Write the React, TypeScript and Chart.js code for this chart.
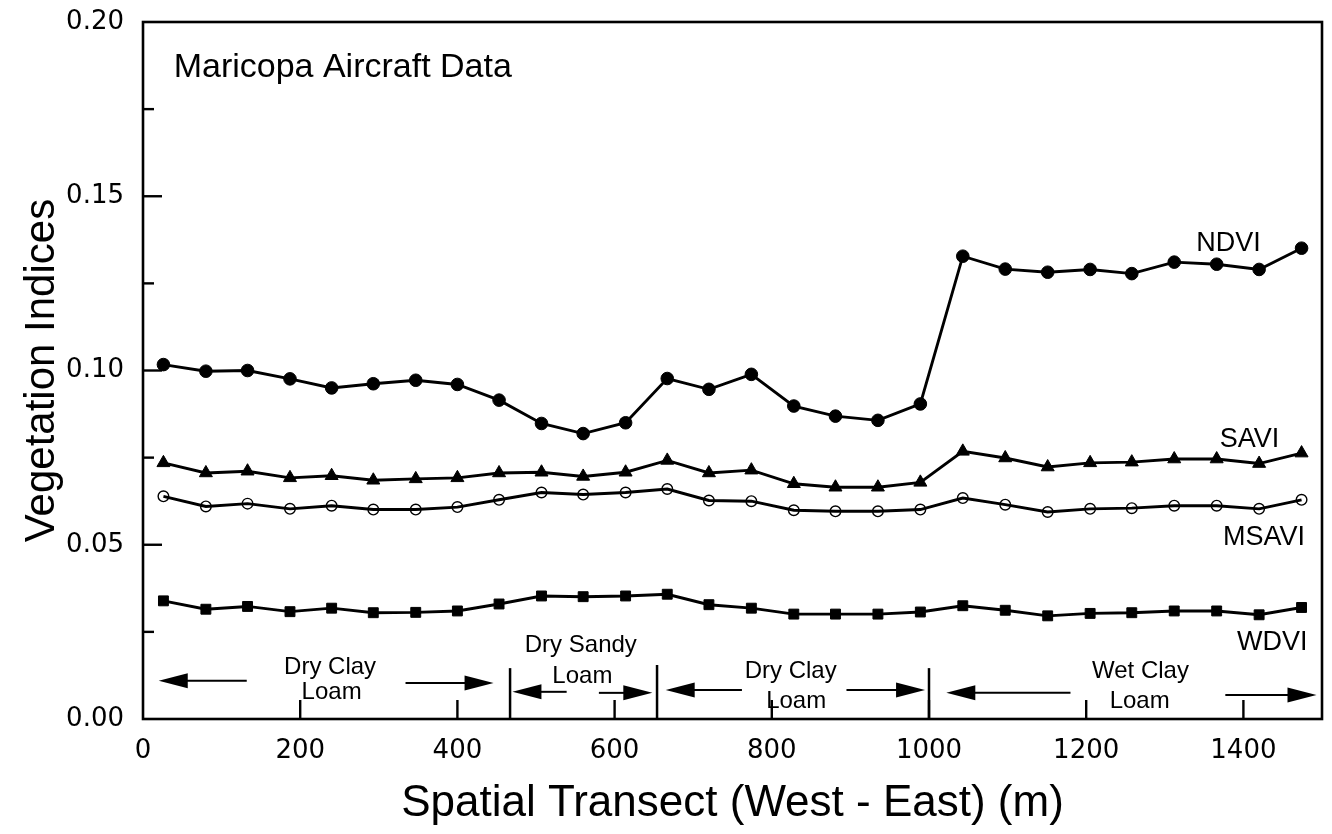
import React, { useEffect, useRef } from 'react';
import { Chart, registerables } from 'chart.js';

Chart.register(...registerables);

// ---- data ----
const positions = [26, 80, 133, 187, 240, 293, 347, 400, 453, 507, 560, 614, 667, 720, 774, 828, 881, 935, 989, 1043, 1097, 1151, 1205, 1258, 1312, 1366, 1420, 1474];

const ndvi = [0.1017, 0.0998, 0.1000, 0.0976, 0.0950, 0.0962, 0.0972, 0.0960, 0.0915, 0.0848, 0.0819, 0.0850, 0.0977, 0.0946, 0.0989, 0.0898, 0.0869, 0.0857, 0.0904, 0.1328, 0.1291, 0.1282, 0.1290, 0.1278, 0.1311, 0.1305, 0.1290, 0.1351];
const savi = [0.0735, 0.0706, 0.0711, 0.0692, 0.0698, 0.0685, 0.0689, 0.0692, 0.0706, 0.0708, 0.0696, 0.0708, 0.0742, 0.0706, 0.0714, 0.0675, 0.0665, 0.0665, 0.0679, 0.0768, 0.0749, 0.0723, 0.0735, 0.0737, 0.0746, 0.0746, 0.0733, 0.0763];
const msavi = [0.0639, 0.0610, 0.0618, 0.0603, 0.0612, 0.0601, 0.0601, 0.0608, 0.0629, 0.0650, 0.0644, 0.0650, 0.0660, 0.0627, 0.0625, 0.0599, 0.0596, 0.0596, 0.0601, 0.0634, 0.0615, 0.0594, 0.0603, 0.0605, 0.0612, 0.0612, 0.0603, 0.0629];
const wdvi = [0.0339, 0.0315, 0.0323, 0.0308, 0.0318, 0.0305, 0.0306, 0.0310, 0.0330, 0.0353, 0.0351, 0.0353, 0.0358, 0.0328, 0.0318, 0.0301, 0.0301, 0.0301, 0.0307, 0.0325, 0.0312, 0.0296, 0.0303, 0.0305, 0.0310, 0.0310, 0.0299, 0.0320];

const seriesNames = ['NDVI', 'SAVI', 'MSAVI', 'WDVI'];

const xAxisTitle = 'Spatial Transect (West - East) (m)';
const yAxisTitle = 'Vegetation Indices';
const panelTitle = 'Maricopa Aircraft Data';

// soil zone boundaries (m)
const zoneBoundaries = [467, 654, 1000];

// soil zone labels: [text, x (m), y (index units)]
const zoneTexts: [string, number, number][] = [
  ['Dry Clay', 238, 0.0129],
  ['Loam', 240, 0.0057],
  ['Dry Sandy', 557, 0.0193],
  ['Loam', 559, 0.0102],
  ['Dry Clay', 824, 0.0118],
  ['Loam', 831, 0.0032],
  ['Wet Clay', 1269, 0.0118],
  ['Loam', 1268, 0.0032],
];

// arrows: [tip x (m), tail x (m), y]
const zoneArrows: [number, number, number][] = [
  [20, 132, 0.0110],
  [446, 334, 0.0103],
  [470, 539, 0.0078],
  [648, 580, 0.0075],
  [665, 762, 0.0083],
  [995, 895, 0.0083],
  [1022, 1180, 0.0075],
  [1493, 1377, 0.0069],
];

// series labels: [left x (m), baseline y]
const seriesLabelPos: [number, number][] = [
  [1340, 0.1343],
  [1370, 0.0780],
  [1374, 0.0499],
  [1392, 0.0198],
];

const SANS = "'Liberation Sans', Arial, Helvetica, sans-serif";
const TICKFONT = "'DejaVu Sans', 'Liberation Sans', sans-serif";

const decorPlugin = {
  id: 'decor',
  afterDatasetsDraw(chart: any) {
    const { ctx, chartArea, scales } = chart;
    const xs = scales.x;
    const ys = scales.y;
    ctx.save();
    ctx.fillStyle = '#000';
    ctx.strokeStyle = '#000';

    // inward ticks on y axis
    ctx.lineWidth = 2.4;
    for (let i = 1; i < 8; i++) {
      const v = i * 0.025;
      const py = ys.getPixelForValue(v);
      const len = i % 2 === 0 ? 19 : 11;
      ctx.beginPath();
      ctx.moveTo(chartArea.left, py);
      ctx.lineTo(chartArea.left + len, py);
      ctx.stroke();
    }
    // inward ticks on x axis
    for (let v = 200; v <= 1400; v += 200) {
      const px = xs.getPixelForValue(v);
      ctx.beginPath();
      ctx.moveTo(px, chartArea.bottom);
      ctx.lineTo(px, chartArea.bottom - 19);
      ctx.stroke();
    }

    // zone boundaries
    ctx.lineWidth = 2.5;
    const bTop = [0.0146, 0.0155, 0.0146];
    zoneBoundaries.forEach((b, i) => {
      const px = xs.getPixelForValue(b);
      ctx.beginPath();
      ctx.moveTo(px, ys.getPixelForValue(bTop[i]));
      ctx.lineTo(px, chartArea.bottom);
      ctx.stroke();
    });

    // arrows
    zoneArrows.forEach(([tip, tail, yv]) => {
      const tx = xs.getPixelForValue(tip);
      const sx = xs.getPixelForValue(tail);
      const py = ys.getPixelForValue(yv);
      const dir = Math.sign(tip - tail);
      const headLen = 29;
      const half = 7.5;
      ctx.lineWidth = 2;
      ctx.beginPath();
      ctx.moveTo(sx, py);
      ctx.lineTo(tx - dir * headLen * 0.8, py);
      ctx.stroke();
      ctx.beginPath();
      ctx.moveTo(tx, py);
      ctx.lineTo(tx - dir * headLen, py - half);
      ctx.lineTo(tx - dir * headLen, py + half);
      ctx.closePath();
      ctx.fill();
    });

    // zone texts
    ctx.font = `24px ${SANS}`;
    ctx.textAlign = 'center';
    ctx.textBaseline = 'alphabetic';
    zoneTexts.forEach(([t, xv, yv]) => {
      ctx.fillText(t, xs.getPixelForValue(xv), ys.getPixelForValue(yv));
    });

    // series labels
    ctx.font = `27px ${SANS}`;
    ctx.textAlign = 'left';
    seriesNames.forEach((n, i) => {
      const [xv, yv] = seriesLabelPos[i];
      ctx.fillText(n, xs.getPixelForValue(xv), ys.getPixelForValue(yv));
    });

    // panel title
    ctx.font = `34px ${SANS}`;
    ctx.fillText(panelTitle, xs.getPixelForValue(39), ys.getPixelForValue(0.1842));

    // frame
    ctx.lineWidth = 2.6;
    ctx.strokeRect(chartArea.left, chartArea.top, chartArea.right - chartArea.left, chartArea.bottom - chartArea.top);
    ctx.restore();
  },
};

export default function App() {
  const ref = useRef<HTMLCanvasElement | null>(null);

  useEffect(() => {
    if (!ref.current) return;
    const mk = (vals: number[]) => positions.map((x, i) => ({ x, y: vals[i] }));
    const common = {
      borderColor: '#000',
      borderWidth: 2.9,
      showLine: true,
      tension: 0,
      pointBorderColor: '#000',
    };
    const chart = new Chart(ref.current, {
      type: 'scatter',
      data: {
        datasets: [
          { ...common, label: seriesNames[0], data: mk(ndvi), pointStyle: 'circle', pointRadius: 6.3, pointBackgroundColor: '#000', pointBorderWidth: 1 },
          { ...common, label: seriesNames[1], data: mk(savi), pointStyle: 'triangle', pointRadius: 7.5, pointBackgroundColor: '#000', pointBorderWidth: 1 },
          { ...common, label: seriesNames[2], data: mk(msavi), pointStyle: 'circle', pointRadius: 5.3, pointBackgroundColor: 'rgba(0,0,0,0)', pointBorderWidth: 1.4 },
          { ...common, label: seriesNames[3], data: mk(wdvi), pointStyle: 'rect', pointRadius: 7, pointBackgroundColor: '#000', pointBorderWidth: 1 },
        ],
      } as any,
      options: {
        animation: false,
        responsive: true,
        maintainAspectRatio: false,
        layout: { padding: { top: 22, right: 10, left: 0, bottom: 0 } },
        plugins: { legend: { display: false }, tooltip: { enabled: false } },
        scales: {
          x: {
            type: 'linear',
            min: 0,
            max: 1500,
            grid: { display: false, drawTicks: false },
            border: { display: false },
            ticks: {
              stepSize: 200,
              includeBounds: false,
              padding: 17,
              color: '#000',
              maxRotation: 0,
              autoSkip: false,
              font: { family: TICKFONT, size: 26 },
              callback: (v: any) => String(v),
            },
            title: {
              display: true,
              text: xAxisTitle,
              color: '#000',
              font: { family: SANS, size: 44 },
              padding: { top: 0, bottom: 4 },
            },
            afterFit: (s: any) => { s.height = 115; s.paddingLeft = 0; s.paddingRight = 0; },
          },
          y: {
            type: 'linear',
            min: 0,
            max: 0.2,
            grid: { display: false, drawTicks: false },
            border: { display: false },
            ticks: {
              stepSize: 0.05,
              padding: 19,
              color: '#000',
              font: { family: TICKFONT, size: 26 },
              callback: (v: any) => Number(v).toFixed(2),
            },
            title: {
              display: true,
              text: yAxisTitle,
              color: '#000',
              font: { family: SANS, size: 42 },
              padding: { top: 17, bottom: 0 },
            },
            afterFit: (s: any) => { s.width = 143; s.paddingTop = 0; s.paddingBottom = 0; },
          },
        },
      } as any,
      plugins: [decorPlugin],
    });
    return () => chart.destroy();
  }, []);

  return (
    <div style={{ position: 'fixed', left: 0, top: 0, width: 1332, height: 834, background: '#fff' }}>
      <canvas ref={ref} />
    </div>
  );
}
